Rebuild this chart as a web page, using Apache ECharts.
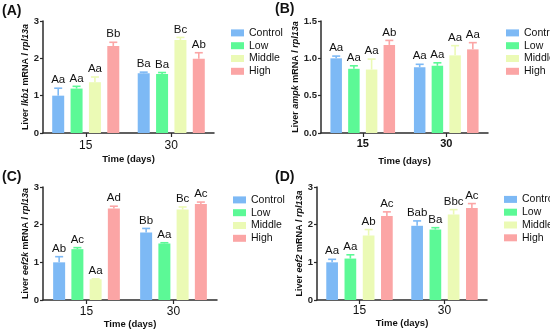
<!DOCTYPE html>
<html>
<head>
<meta charset="utf-8">
<script src="https://cdn.jsdelivr.net/npm/echarts@6/dist/echarts.min.js"></script>
<style>html,body{margin:0;padding:0;background:#fff}#c{width:550px;height:330px}</style>
</head>
<body>
<div id="c"></div>
<script>
const categories = ['15', '30'];
const groups = ['Control', 'Low', 'Middle', 'High'];
const colors = ['#7db9f5', '#5cf996', '#ebfab5', '#fba5a5'];

// (A) lkb1
const lkb1Mean = [[1.00, 1.60], [1.19, 1.58], [1.36, 2.49], [2.33, 1.99]];
const lkb1Err  = [[0.20, 0.03], [0.06, 0.04], [0.14, 0.07], [0.10, 0.16]];
const lkb1Sig  = [['Aa', 'Ba'], ['Aa', 'Ba'], ['Aa', 'Bc'], ['Bb', 'Ab']];
// (B) ampk
const ampkMean = [[1.00, 0.88], [0.86, 0.90], [0.85, 1.04], [1.18, 1.12]];
const ampkErr  = [[0.03, 0.04], [0.04, 0.04], [0.14, 0.13], [0.06, 0.09]];
const ampkSig  = [['Aa', 'Aa'], ['Aa', 'Aa'], ['Aa', 'Aa'], ['Ab', 'Aa']];
// (C) eef2k
const eef2kMean = [[1.00, 1.79], [1.35, 1.50], [0.55, 2.40], [2.43, 2.55]];
const eef2kErr  = [[0.15, 0.11], [0.04, 0.02], [0.01, 0.07], [0.06, 0.05]];
const eef2kSig  = [['Ab', 'Bb'], ['Ac', 'Aa'], ['Aa', 'Bc'], ['Ad', 'Ac']];
// (D) eef2
const eef2Mean = [[1.00, 1.97], [1.10, 1.87], [1.71, 2.27], [2.23, 2.44]];
const eef2Err  = [[0.08, 0.13], [0.10, 0.05], [0.16, 0.13], [0.11, 0.12]];
const eef2Sig  = [['Aa', 'Bab'], ['Aa', 'Ba'], ['Ab', 'Bbc'], ['Ac', 'Ac']];

const yMaxA = 3, yStepA = 1;
const yMaxB = 1.5, yStepB = 0.5;

const FF = '"Liberation Sans", Arial, Helvetica, sans-serif';
const AX = '#2b2b2b';

const panels = [
  {tag: '(A)', gene: 'lkb1', mean: lkb1Mean, err: lkb1Err, sig: lkb1Sig, max: yMaxA, step: yStepA, dec: 0,
   grid: {left: 43, top: 21, width: 171, height: 112}, bw: 12, gap: '53%',
   xl: {margin: 7, fontSize: 12, fontWeight: 'normal'}, xnGap: 21.5, ynGap: 10,
   legend: {left: 226, top: 21.5}, label: {left: 2, top: 4}},
  {tag: '(B)', gene: 'ampk', mean: ampkMean, err: ampkErr, sig: ampkSig, max: yMaxB, step: yStepB, dec: 1,
   grid: {left: 321, top: 21, width: 167, height: 112}, bw: 11.5, gap: '54%',
   xl: {margin: 5, fontSize: 11, fontWeight: 'bold'}, xnGap: 23.5, ynGap: 14,
   legend: {left: 501, top: 21.5}, label: {left: 275, top: 2}},
  {tag: '(C)', gene: 'eef2k', mean: eef2kMean, err: eef2kErr, sig: eef2kSig, max: yMaxA, step: yStepA, dec: 0,
   grid: {left: 43, top: 187, width: 174, height: 113}, bw: 12, gap: '52%',
   xl: {margin: 6, fontSize: 12, fontWeight: 'normal'}, xnGap: 16.5, ynGap: 11,
   legend: {left: 228, top: 188.5}, label: {left: 2, top: 170}},
  {tag: '(D)', gene: 'eef2', mean: eef2Mean, err: eef2Err, sig: eef2Sig, max: yMaxA, step: yStepA, dec: 0,
   grid: {left: 317, top: 187, width: 170, height: 113}, bw: 11.7, gap: '56%',
   xl: {margin: 5, fontSize: 12, fontWeight: 'normal'}, xnGap: 16.5, ynGap: 10,
   legend: {left: 499, top: 188}, label: {left: 275, top: 170}}
];

const option = {
  animation: false,
  backgroundColor: '#fff',
  textStyle: {fontFamily: FF},
  grid: [], xAxis: [], yAxis: [], series: [], legend: [], graphic: []
};

panels.forEach((p, pi) => {
  option.grid.push(Object.assign({containLabel: false}, p.grid));
  option.xAxis.push({
    type: 'category', gridIndex: pi, data: categories,
    name: 'Time (days)', nameLocation: 'middle', nameGap: p.xnGap,
    nameTextStyle: {fontFamily: FF, fontWeight: 'bold', fontSize: 9.5, color: '#111'},
    axisLine: {show: true, lineStyle: {color: AX, width: 1.5}},
    axisTick: {show: true, alignWithLabel: true, length: 4, lineStyle: {color: AX, width: 1.2}},
    axisLabel: {margin: p.xl.margin, fontSize: p.xl.fontSize, fontWeight: p.xl.fontWeight, color: '#111', fontFamily: FF},
    splitLine: {show: false}
  });
  option.yAxis.push({
    type: 'value', gridIndex: pi, min: 0, max: p.max, interval: p.step,
    name: '{b|Liver }{i|' + p.gene + '}{b| mRNA / }{i|rpl13a}',
    nameLocation: 'middle', nameGap: p.ynGap,
    nameTextStyle: {
      fontSize: 9, fontWeight: 'bold', color: '#111', fontFamily: FF,
      rich: {
        b: {fontSize: 9, fontWeight: 'bold', color: '#111', fontFamily: FF},
        i: {fontSize: 9, fontWeight: 'bold', fontStyle: 'italic', color: '#111', fontFamily: FF}
      }
    },
    axisLine: {show: true, lineStyle: {color: AX, width: 1.5}},
    axisTick: {show: true, length: 3, lineStyle: {color: AX, width: 1.2}},
    axisLabel: {margin: 4, fontSize: 9.5, fontWeight: 'bold', color: '#222', fontFamily: FF,
      formatter: v => v.toFixed(p.dec)},
    splitLine: {show: false}
  });
  groups.forEach((g, gi) => {
    option.series.push({
      type: 'bar', name: g, xAxisIndex: pi, yAxisIndex: pi,
      data: p.mean[gi], barWidth: p.bw, barGap: p.gap,
      itemStyle: {color: colors[gi]}, z: 2
    });
  });
  // error bars + significance letters
  const gapFrac = parseFloat(p.gap) / 100;
  const errData = [];
  groups.forEach((g, gi) => {
    categories.forEach((c, ci) => {
      errData.push([ci, p.mean[gi][ci], p.err[gi][ci], gi, p.sig[gi][ci]]);
    });
  });
  option.series.push({
    type: 'custom', name: 'err' + pi, xAxisIndex: pi, yAxisIndex: pi,
    data: errData, encode: {x: 0, y: 1}, z: 5, clip: false,
    renderItem: function (params, api) {
      const ci = api.value(0), m = api.value(1), e = api.value(2), gi = api.value(3);
      const lab = errData[params.dataIndex][4];
      const step = p.bw * (1 + gapFrac);
      const cx = api.coord([ci, 0])[0] + (gi - 1.5) * step;
      const yM = api.coord([ci, m])[1];
      const yT = api.coord([ci, m + e])[1];
      const col = colors[gi];
      return {
        type: 'group',
        children: [
          {type: 'line', shape: {x1: cx, y1: yM, x2: cx, y2: yT}, style: {stroke: col, lineWidth: 1.6}},
          {type: 'line', shape: {x1: cx - 4, y1: yT, x2: cx + 4, y2: yT}, style: {stroke: col, lineWidth: 1.6}},
          {type: 'text', style: {text: lab, x: cx, y: yT - 2, align: 'center', verticalAlign: 'bottom',
            fontSize: 11.5, fontFamily: FF, fill: '#111'}}
        ]
      };
    }
  });
  option.legend.push({
    orient: 'vertical', left: p.legend.left, top: p.legend.top,
    data: groups, icon: 'rect', itemWidth: 13, itemHeight: 7, itemGap: 0,
    selectedMode: false,
    textStyle: {fontSize: 10.5, fontFamily: FF, color: '#111', lineHeight: 12.8, padding: [0, 0, 0, 0]}
  });
  option.graphic.push({
    type: 'text', left: p.label.left, top: p.label.top,
    style: {text: p.tag, fontSize: 14, fontWeight: 'bold', fontFamily: FF, fill: '#111'}
  });
});

const chart = echarts.init(document.getElementById('c'), null, {renderer: 'canvas'});
chart.setOption(option);
</script>
</body>
</html>
